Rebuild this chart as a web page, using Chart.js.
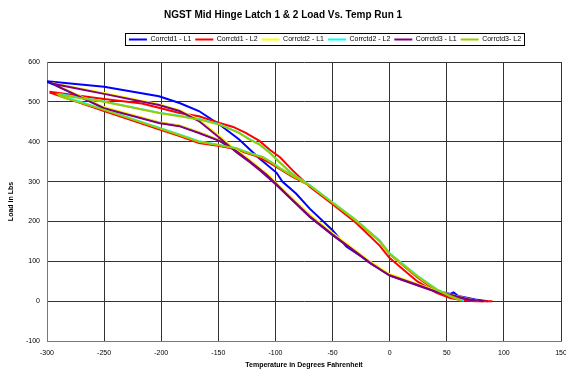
<!DOCTYPE html>
<html>
<head>
<meta charset="utf-8">
<script src="https://cdn.jsdelivr.net/npm/chart.js@4"></script>
<style>
  html, body { margin: 0; padding: 0; background: #fff; overflow: hidden; }
  #wrap { width: 566px; height: 373px; }
</style>
</head>
<body>
<div id="wrap"><canvas id="chart" width="566" height="373"></canvas></div>
<script>
// data (temp in F, load in lbs)
const xTicks = [-300, -250, -200, -150, -100, -50, 0, 50, 100, 150];
const yTicks = [-100, 0, 100, 200, 300, 400, 500, 600];

const c1L1Temp = [86, 75, 60, 56, 53, 41, 24, 0, -17, -38, -50, -70, -82, -94, -99, -114, -132, -149, -167, -184, -202, -250, -300,
  -300, -293, -250, -202, -184, -167, -149, -134, -123, -108, -100, -85, -70, -50, -35, -17, 0, 24, 41, 53, 70, 86];
const c1L1Load = [0, 4, 13, 22, 18, 26, 42, 66, 97, 137, 178, 232, 270, 300, 322, 358, 406, 443, 477, 497, 514, 538, 552,
  550, 542, 485, 448, 440, 423, 403, 377, 352, 318, 295, 253, 212, 166, 134, 95, 65, 41, 24, 16, 5, 0];

const c1L2Temp = [90, 80, 69, 60, 53, 41, 24, 0, -9, -30, -50, -70, -85, -96, -105, -114, -126, -137, -149, -167, -184, -202, -217, -250, -297,
  -297, -250, -202, -184, -167, -149, -134, -126, -117, -105, -96, -85, -78, -70, -50, -30, -9, 0, 24, 41, 53, 63, 75, 90];
const c1L2Load = [0, 0, 1, 4, 8, 21, 50, 108, 140, 198, 243, 287, 328, 361, 380, 402, 422, 437, 447, 464, 472, 485, 496, 507, 525,
  523, 477, 431, 414, 397, 389, 381, 372, 364, 347, 331, 312, 302, 290, 245, 202, 152, 118, 60, 26, 10, 2, 0, 0];

const c2L1Temp = [80, 70, 53, 41, 24, 0, -17, -35, -50, -70, -85, -100, -114, -123, -134, -149, -167, -184, -202, -250, -292,
  -288, -250, -202, -184, -167, -149, -134, -123, -108, -100, -85, -70, -50, -35, -17, 0, 24, 41, 53, 70, 80];
const c2L1Load = [0, 5, 17, 26, 43, 68, 99, 138, 171, 217, 258, 298, 334, 356, 378, 414, 455, 479, 494, 522, 545,
  537, 487, 449, 441, 424, 404, 379, 355, 321, 298, 257, 216, 169, 137, 98, 66, 42, 25, 15, 4, 0];

const c2L2Temp = [65, 53, 41, 24, 0, -9, -30, -50, -70, -85, -96, -105, -114, -123, -132, -149, -167, -184, -202, -250, -288,
  -286, -250, -202, -184, -167, -149, -134, -126, -117, -111, -102, -96, -85, -78, -70, -50, -30, -9, 0, 24, 41, 53, 65];
const c2L2Load = [1, 13, 29, 63, 119, 151, 204, 248, 291, 319, 348, 373, 394, 407, 423, 444, 457, 465, 473, 501, 519,
  514, 481, 435, 418, 401, 392, 384, 375, 367, 362, 346, 334, 315, 304, 291, 248, 205, 152, 120, 64, 30, 14, 2];

const c3L1Temp = [82, 70, 53, 41, 24, 0, -17, -35, -50, -70, -85, -100, -114, -123, -134, -149, -167, -184, -202, -250, -294,
  -290, -250, -202, -184, -167, -149, -134, -123, -108, -100, -85, -70, -50, -35, -17, 0, 24, 41, 53, 70, 82];
const c3L1Load = [0, 4, 16, 24, 41, 65, 95, 134, 166, 212, 253, 294, 329, 350, 373, 410, 452, 477, 492, 520, 545,
  538, 484, 447, 439, 422, 402, 376, 352, 318, 296, 254, 213, 167, 135, 96, 64, 40, 23, 14, 3, 0];

const c3L2Temp = [63, 53, 41, 24, 0, -9, -30, -50, -70, -85, -96, -105, -114, -123, -132, -149, -167, -184, -202, -250, -290,
  -288, -250, -202, -184, -167, -149, -134, -126, -117, -111, -102, -96, -85, -78, -70, -50, -30, -9, 0, 24, 41, 53, 63];
const c3L2Load = [1, 12, 28, 62, 118, 150, 203, 247, 290, 318, 347, 372, 393, 406, 422, 443, 456, 464, 472, 500, 518,
  513, 480, 434, 417, 400, 391, 383, 374, 366, 361, 345, 333, 314, 303, 290, 247, 204, 151, 119, 63, 29, 13, 2];

const seriesNames = ['Corrctd1 - L1', 'Corrctd1 - L2', 'Corrctd2 - L1', 'Corrctd2 - L2', 'Corrctd3 - L1', 'Corrctd3- L2'];
const seriesColors = ['#0000ff', '#ff0000', '#ffff00', '#00ffff', '#800080', '#99cc00'];
const seriesTemps = [c1L1Temp, c1L2Temp, c2L1Temp, c2L2Temp, c3L1Temp, c3L2Temp];
const seriesLoads = [c1L1Load, c1L2Load, c2L1Load, c2L2Load, c3L1Load, c3L2Load];

const FONT = "'Liberation Sans', Arial, sans-serif";

// excel paints the last series on top
const datasets = seriesNames.map((name, i) => ({
  label: name,
  data: seriesTemps[i].map((t, k) => ({ x: t, y: seriesLoads[i][k] })),
  borderColor: seriesColors[i],
  backgroundColor: seriesColors[i],
  pointBorderColor: seriesColors[i],
  borderWidth: 2,
  showLine: true,
  pointRadius: 0,
  tension: 0,
  order: seriesNames.length - i
}));

const legendFrame = {
  id: 'legendFrame',
  beforeLayout(chart) {
    const lg = chart.legend;
    if (lg && !lg._patched) {
      const fit = lg.fit;
      lg.fit = function () { fit.call(this); this.height += 9; };
      lg._patched = true;
    }
  },
  afterLayout(chart) {
    const lg = chart.legend;
    const dx = 42;
    lg.left += dx; lg.right += dx;
  },
  afterDraw(chart) {
    const boxes = chart.legend.legendHitBoxes;
    if (!boxes || !boxes.length) return;
    let l = Infinity, r = -Infinity, t = Infinity, b = -Infinity;
    boxes.forEach(h => {
      l = Math.min(l, h.left); r = Math.max(r, h.left + h.width);
      t = Math.min(t, h.top); b = Math.max(b, h.top + h.height);
    });
    const ctx = chart.ctx;
    ctx.save();
    ctx.strokeStyle = '#000';
    ctx.lineWidth = 1;
    ctx.strokeRect(Math.round(l - 4) + 0.5, Math.round(t - 3) + 0.5, Math.round(r - l + 7), Math.round(b - t + 5));
    ctx.restore();
  }
};

new Chart(document.getElementById('chart'), {
  type: 'scatter',
  data: { datasets },
  plugins: [legendFrame],
  options: {
    responsive: false,
    animation: false,
    devicePixelRatio: 1,
    layout: { padding: 0 },
    plugins: {
      title: {
        display: true,
        text: 'NGST Mid Hinge Latch 1 & 2 Load Vs. Temp Run 1',
        color: '#000',
        font: { family: FONT, size: 10, weight: 'bold' },
        padding: { top: 9, bottom: 11 }
      },
      legend: {
        labels: {
          color: '#000',
          font: { family: FONT, size: 7 },
          usePointStyle: true,
          pointStyle: 'line',
          pointStyleWidth: 18,
          padding: 4,
          sort: (a, b) => a.datasetIndex - b.datasetIndex,
          generateLabels: chart => Chart.defaults.plugins.legend.labels.generateLabels(chart)
            .map(l => Object.assign(l, { lineWidth: 2, strokeStyle: seriesColors[l.datasetIndex] }))
        }
      },
      tooltip: { enabled: false }
    },
    scales: {
      x: {
        type: 'linear',
        min: -300, max: 150,
        afterBuildTicks: s => { s.ticks = xTicks.map(v => ({ value: v })); },
        // plot runs to the window edge, so the last label gets cut like the original
        afterFit: s => { s.height = 32; s.paddingRight = 5; },
        ticks: { color: '#000', font: { family: FONT, size: 7 }, padding: 8, maxRotation: 0 },
        grid: { color: '#333', lineWidth: 1, drawTicks: false },
        border: { color: '#777' },
        title: {
          display: true,
          text: 'Temperature in Degrees Fahrenheit',
          color: '#000',
          font: { family: FONT, size: 7, weight: 'bold' },
          padding: { top: 3 }
        }
      },
      y: {
        type: 'linear',
        min: -100, max: 600,
        afterBuildTicks: s => { s.ticks = yTicks.map(v => ({ value: v })); },
        afterFit: s => { s.width = 47; },
        ticks: { color: '#000', font: { family: FONT, size: 7 }, padding: 7 },
        grid: { color: '#333', lineWidth: 1, drawTicks: false },
        border: { color: '#777' },
        title: {
          display: true,
          text: 'Load in Lbs',
          color: '#000',
          font: { family: FONT, size: 7, weight: 'bold' },
          padding: { top: 7, bottom: 2 }
        }
      }
    }
  }
});
</script>
</body>
</html>
